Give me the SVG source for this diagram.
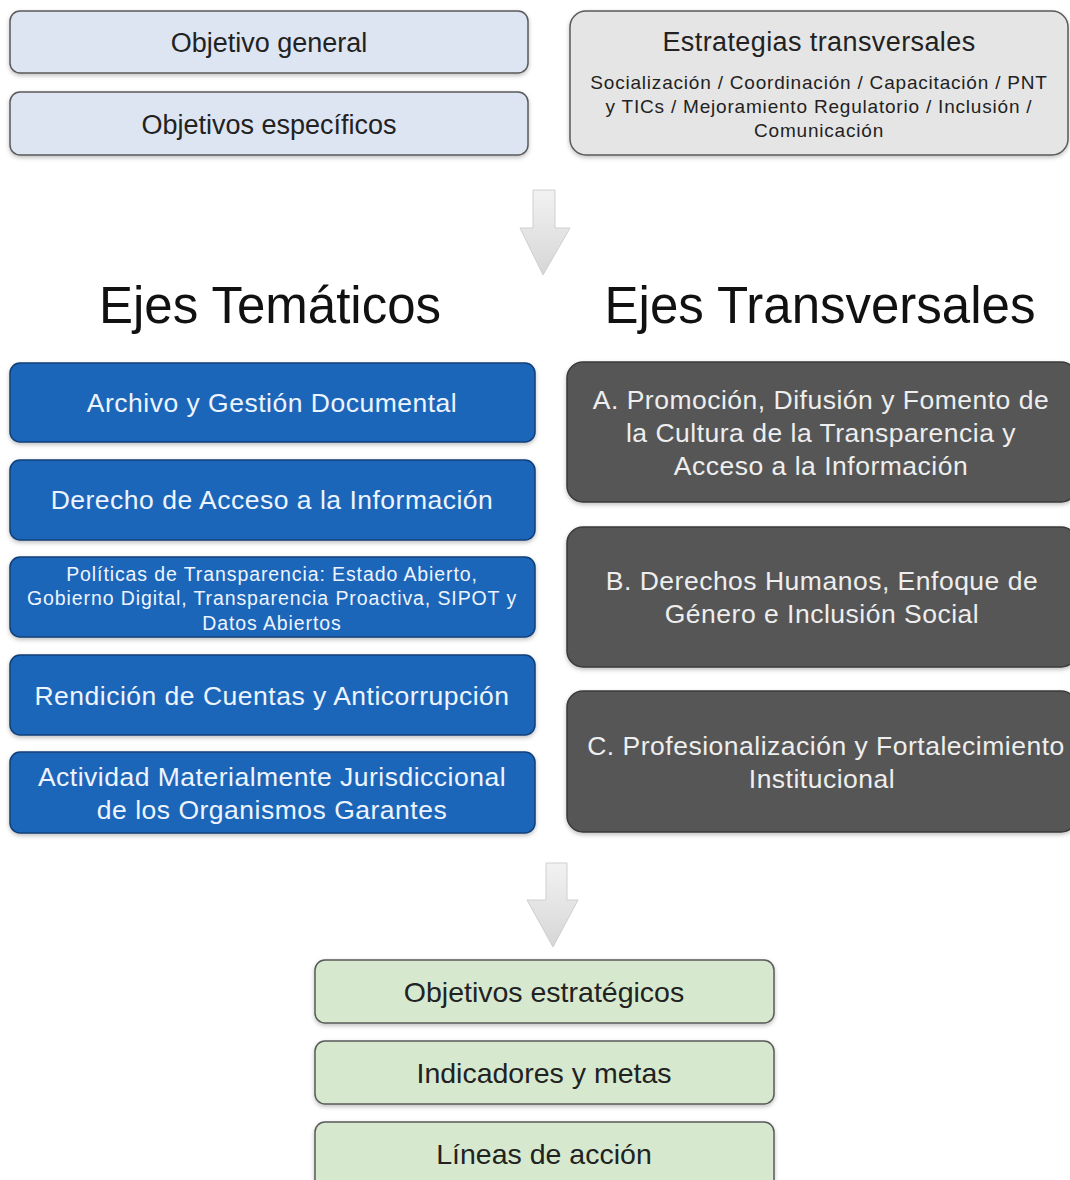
<svg xmlns="http://www.w3.org/2000/svg" width="1070" height="1180" viewBox="0 0 1070 1180">
<defs>
<linearGradient id="arrowGrad" x1="0" y1="0" x2="0" y2="1">
<stop offset="0" stop-color="#f2f2f2"/>
<stop offset="1" stop-color="#d6d6d6"/>
</linearGradient>
<filter id="sh" x="-5%" y="-10%" width="110%" height="130%">
<feDropShadow dx="0" dy="2" stdDeviation="2" flood-color="#000" flood-opacity="0.25"/>
</filter>
</defs>
<style>
text{font-family:"Liberation Sans",Arial,Helvetica,sans-serif;text-anchor:middle}
.lb{fill:#dde5f3;stroke:#5a5a5a;stroke-width:1.5}
.gr{fill:#e5e5e5;stroke:#5a5a5a;stroke-width:1.5}
.bl{fill:#1e66b9;stroke:#103f78;stroke-width:1.5}
.dk{fill:#575757;stroke:#3a3a3a;stroke-width:1.5}
.gn{fill:#d6e9cf;stroke:#5a5a5a;stroke-width:1.5}
.t-dark{fill:#222;font-size:27px}
.t-green{fill:#222;font-size:28.5px}
.t-small{fill:#222;font-size:19px;letter-spacing:0.8px}
.t-light{fill:#eef4ff;font-size:26.5px;letter-spacing:0.5px}
.t-lsmall{fill:#eef4ff;font-size:19.5px;letter-spacing:0.9px}
.t-grey{fill:#eeeeee;font-size:26.5px;letter-spacing:0.5px}
.head{fill:#111;font-size:51px}
.arrow{fill:url(#arrowGrad);stroke:#cfcfcf;stroke-width:1}
</style>
<rect width="1070" height="1180" fill="#ffffff"/>

<g id="objetivo-general"><rect class="lb" x="10" y="11" width="518" height="62" rx="10" filter="url(#sh)"/><text class="t-dark" x="269" y="52">Objetivo general</text></g>
<g id="objetivos-especificos"><rect class="lb" x="10" y="92" width="518" height="63" rx="10" filter="url(#sh)"/><text class="t-dark" x="269" y="134">Objetivos específicos</text></g>
<g id="estrategias"><rect class="gr" x="570" y="11" width="498" height="144" rx="16" filter="url(#sh)"/>
<text class="t-dark" x="819" y="51" style="letter-spacing:0.4px">Estrategias transversales</text>
<text class="t-small" x="819" y="89">Socialización / Coordinación / Capacitación / PNT</text>
<text class="t-small" x="819" y="113">y TICs / Mejoramiento Regulatorio / Inclusión /</text>
<text class="t-small" x="819" y="137">Comunicación</text></g>

<g id="connectors">
<path class="arrow" d="M533,190 H555 V228 H570 L543,275 L520,228 H533 Z"/>
<path class="arrow" d="M546,863 H567 V900 H578 L553,947 L527,900 H546 Z"/>
</g>

<g id="ejes-tematicos-title"><text class="head" x="270" y="323">Ejes Temáticos</text></g>
<g id="ejes-transversales-title"><text class="head" x="820" y="323">Ejes Transversales</text></g>

<g id="archivo"><rect class="bl" x="10" y="363" width="525" height="79" rx="10" filter="url(#sh)"/><text class="t-light" x="272" y="412">Archivo y Gestión Documental</text></g>
<g id="derecho"><rect class="bl" x="10" y="460" width="525" height="80" rx="10" filter="url(#sh)"/><text class="t-light" x="272" y="509">Derecho de Acceso a la Información</text></g>
<g id="politicas"><rect class="bl" x="10" y="557" width="525" height="80" rx="10" filter="url(#sh)"/>
<text class="t-lsmall" x="272" y="581">Políticas de Transparencia: Estado Abierto,</text>
<text class="t-lsmall" x="272" y="605">Gobierno Digital, Transparencia Proactiva, SIPOT y</text>
<text class="t-lsmall" x="272" y="630">Datos Abiertos</text></g>
<g id="rendicion"><rect class="bl" x="10" y="655" width="525" height="80" rx="10" filter="url(#sh)"/><text class="t-light" x="272" y="705">Rendición de Cuentas y Anticorrupción</text></g>
<g id="actividad"><rect class="bl" x="10" y="752" width="525" height="81" rx="10" filter="url(#sh)"/>
<text class="t-light" x="272" y="786">Actividad Materialmente Jurisdiccional</text>
<text class="t-light" x="272" y="819">de los Organismos Garantes</text></g>

<g id="eje-a"><rect class="dk" x="567" y="362" width="510" height="140" rx="16" filter="url(#sh)"/>
<text class="t-grey" x="821" y="409">A. Promoción, Difusión y Fomento de</text>
<text class="t-grey" x="821" y="442">la Cultura de la Transparencia y</text>
<text class="t-grey" x="821" y="475">Acceso a la Información</text></g>
<g id="eje-b"><rect class="dk" x="567" y="527" width="510" height="140" rx="16" filter="url(#sh)"/>
<text class="t-grey" x="822" y="590">B. Derechos Humanos, Enfoque de</text>
<text class="t-grey" x="822" y="623">Género e Inclusión Social</text></g>
<g id="eje-c"><rect class="dk" x="567" y="691" width="510" height="141" rx="16" filter="url(#sh)"/>
<text class="t-grey" x="826" y="755">C. Profesionalización y Fortalecimiento</text>
<text class="t-grey" x="822" y="788">Institucional</text></g>

<g id="objetivos-estrategicos"><rect class="gn" x="315" y="960" width="459" height="63" rx="10" filter="url(#sh)"/><text class="t-green" x="544" y="1002">Objetivos estratégicos</text></g>
<g id="indicadores"><rect class="gn" x="315" y="1041" width="459" height="63" rx="10" filter="url(#sh)"/><text class="t-green" x="544" y="1083">Indicadores y metas</text></g>
<g id="lineas"><rect class="gn" x="315" y="1122" width="459" height="70" rx="10" filter="url(#sh)"/><text class="t-green" x="544" y="1164">Líneas de acción</text></g>
</svg>
